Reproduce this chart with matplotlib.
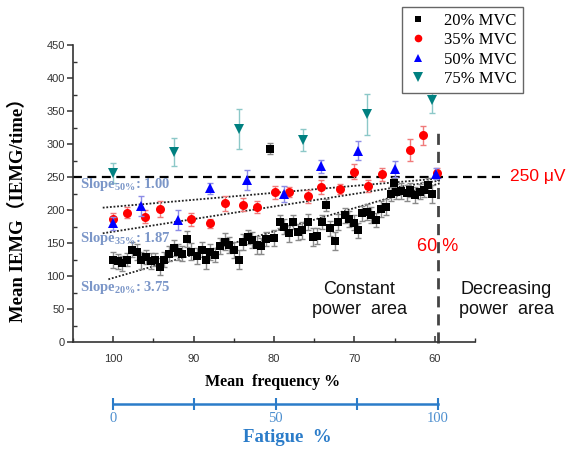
import matplotlib
matplotlib.use("Agg")
import matplotlib.pyplot as plt
from matplotlib.lines import Line2D

plt.rcParams['mathtext.fontset'] = 'custom'
plt.rcParams['mathtext.rm'] = 'Liberation Serif'
plt.rcParams['mathtext.bf'] = 'Liberation Serif:bold'
plt.rcParams['mathtext.it'] = 'Liberation Serif:italic'

# ---------------- data ----------------
freq20 = [100, 99.4, 98.9, 98.3, 97.7, 97.1, 96.5, 95.9, 95.3, 94.8, 94.2, 93.7, 93.1, 92.5,
          92.0, 91.4, 90.8, 90.3, 89.6, 89.0, 88.5, 88.0, 87.4, 86.7, 86.1, 85.6, 85.0, 84.4,
          83.9, 83.2, 82.7, 82.1, 81.6, 81.0, 80.5, 80.0, 79.3, 78.7, 78.1, 77.6, 77.0, 76.5,
          75.8, 75.2, 74.7, 74.0, 73.5, 73.0, 72.4, 72.0, 71.2, 70.7, 70.1, 69.6, 69.0, 68.4,
          67.9, 67.3, 66.7, 66.1, 65.4, 65.1, 64.8, 64.2, 63.5, 63.1, 62.5, 61.9, 61.3, 60.9,
          60.3]
val20 = [124, 122, 119, 125, 140, 137, 124, 129, 123, 125, 114, 125, 134, 143,
         137, 134, 156, 137, 130, 140, 124, 137, 132, 145, 152, 147, 139, 125,
         152, 159, 155, 147, 145, 156, 293, 157, 182, 175, 165, 182, 167, 169,
         182, 159, 160, 182, 208, 172, 153, 182, 192, 187, 181, 169, 195, 197,
         192, 185, 201, 205, 224, 241, 228, 229, 226, 230, 223, 228, 231, 238,
         224]
err20 = [12, 11, 12, 10, 11, 12, 13, 11, 12, 10, 13, 12, 11, 12,
         12, 11, 12, 13, 12, 11, 14, 12, 11, 12, 13, 12, 12, 15,
         12, 11, 12, 13, 12, 11, 8, 12, 10, 12, 13, 11, 12, 13,
         12, 14, 12, 11, 9, 12, 13, 12, 11, 12, 12, 12, 11, 12,
         12, 11, 12, 12, 11, 8, 12, 12, 12, 11, 12, 12, 12, 10,
         14]

freq35 = [100, 98.3, 96.0, 94.2, 90.3, 87.9, 86.1, 83.9, 82.1, 79.9, 78.1, 75.8, 74.1,
          71.8, 70.1, 68.3, 66.6, 63.1, 61.5, 59.7]
val35 = [186, 196, 190, 202, 186, 180, 210, 208, 205, 227, 227, 221, 235,
         232, 258, 236, 254, 291, 313, 256]
err35 = [10, 8, 10, 12, 10, 7, 11, 10, 9, 10, 8, 10, 10,
         8, 11, 9, 10, 17, 14, 8]

freq50 = [100, 96.6, 92.0, 88.0, 83.3, 78.7, 74.1, 69.6, 65.0, 59.8]
val50 = [180, 206, 185, 233, 245, 224, 266, 290, 262, 255]
err50 = [10, 15, 15, 8, 15, 12, 10, 14, 12, 8]

freq75 = [100, 92.5, 84.4, 76.4, 68.4, 60.3]
val75 = [256, 288, 323, 306, 345, 367]
err75 = [15, 21, 30, 17, 31, 20]

# fitted trend lines (start/end frequency and value)
trend_freq = [101.3, 59.2]
trend50 = [203.5, 248]
trend35 = [164.7, 245]
trend20 = [95, 241]
trend20_freq = [100.6, 59.2]

labels = ['20% MVC', '35% MVC', '50% MVC', '75% MVC']
slope_labels = [r'Slope$_{\mathbf{50\%}}$: 1.00', r'Slope$_{\mathbf{35\%}}$: 1.87',
                r'Slope$_{\mathbf{20\%}}$: 3.75']
slope_y = [238, 157, 82]

yticks = [0, 50, 100, 150, 200, 250, 300, 350, 400, 450]
xticks = [100, 90, 80, 70, 60]
fat_ticks = [0, 25, 50, 75, 100]
fat_labels = ['0', '', '50', '', '100']

threshold = 250
limit_freq = 59.6

# ---------------- figure ----------------
W, H = 570, 450
fig = plt.figure(figsize=(W / 100, H / 100), dpi=100)
ax = fig.add_axes([73 / W, 1 - 342 / H, (475 - 73) / W, (342 - 45) / H])
ax.set_xlim(105, 55)
ax.set_ylim(0, 450)

serif = 'Liberation Serif'
sans = 'Liberation Sans'

# dashed reference lines
ax.plot([105, 51.9], [threshold, threshold], ls=(0, (4, 2.5)), color='black', lw=1.6,
        clip_on=False, zorder=2)
ax.plot([limit_freq, limit_freq], [-2, 326], ls=(0, (4, 2.5)), color='#444444', lw=2.0,
        clip_on=False, zorder=2)

# trend lines
ax.plot(trend_freq, trend50, ls=(0, (1, 1)), color='#222222', lw=1.3, zorder=2)
ax.plot(trend_freq, trend35, ls=(0, (1, 1)), color='#222222', lw=1.3, zorder=2)
ax.plot(trend20_freq, trend20, ls=(0, (1, 1)), color='#222222', lw=1.3, zorder=2)

series = [
    (freq20, val20, err20, 's', 'black', '#8a8a8a', 5.5),
    (freq35, val35, err35, 'o', '#ff0000', '#f07a7a', 6.5),
    (freq50, val50, err50, '^', '#0000ff', '#8c8ce6', 7.0),
    (freq75, val75, err75, 'v', '#008080', '#8cc8c8', 7.5),
]
handles = []
for i, (fx, fy, fe, mk, col, ecol, ms) in enumerate(series):
    ax.errorbar(fx, fy, yerr=fe, fmt='none', ecolor=ecol, elinewidth=1.0, capsize=2.5,
                capthick=1.0, zorder=3 + i)
    h, = ax.plot(fx, fy, ls='none', marker=mk, color=col, markersize=ms,
                 markeredgewidth=0, zorder=3.5 + i)
    handles.append(Line2D([], [], ls='none', marker=mk, color=col, markersize=ms - 1,
                          markeredgewidth=0))

# axes styling
for s in ['top', 'right']:
    ax.spines[s].set_visible(False)
for s in ['left', 'bottom']:
    ax.spines[s].set_linewidth(1.2)
    ax.spines[s].set_color('#333333')
ax.set_yticks(yticks)
ax.set_yticks(range(25, 450, 50), minor=True)
ax.set_xticks(xticks)
ax.set_xticks([105, 95, 85, 75, 65, 55], minor=True)
ax.tick_params(axis='y', which='major', direction='out', length=4, width=1.1, colors='#333333',
               labelsize=8, pad=2)
ax.tick_params(axis='y', which='minor', direction='in', length=3, width=1.0, colors='#333333')
ax.tick_params(axis='x', which='major', direction='in', length=4, width=1.1, colors='#333333',
               labelsize=8, pad=9)
ax.tick_params(axis='x', which='minor', direction='in', length=3, width=1.0, colors='#333333')
for lab in ax.get_xticklabels() + ax.get_yticklabels():
    lab.set_fontfamily(sans)

# annotations
slope_col = '#7b96c8'
for lab, yv in zip(slope_labels, slope_y):
    ax.text(104.1, yv, lab, fontfamily=serif, fontweight='bold', fontsize=10.5,
            color=slope_col, ha='left', va='center', zorder=10)

ax.text(50.7, threshold, '250 μV', color='#ff0000', fontfamily=sans, fontsize=12.5,
        ha='left', va='center', clip_on=False)
ax.text(limit_freq, 145, '60 %', color='#ff0000', fontfamily=sans, fontsize=13,
        ha='center', va='center')
ax.text(69.4, 64, 'Constant\npower  area', color='#111111', fontfamily=sans, fontsize=13,
        ha='center', va='center', linespacing=1.25)
ax.text(51.1, 64, 'Decreasing\npower  area', color='#111111', fontfamily=sans, fontsize=13,
        ha='center', va='center', linespacing=1.25, clip_on=False)

# axis labels
fig.text(18 / W, 1 - 205 / H, 'Mean IEMG（IEMG/time）', rotation=90,
         family=[serif, 'Noto Sans CJK SC'], fontweight='bold', fontsize=13.5,
         ha='center', va='center')
fig.text(273 / W, 1 - 382 / H, 'Mean  frequency %', fontfamily=serif, fontweight='bold',
         fontsize=11.5, ha='center', va='center')

# fatigue axis
blue = '#2b7cc9'
ax2 = fig.add_axes([113.3 / W, 1 - 404 / H, (438 - 113.3) / W, 0.02])
ax2.set_xlim(0, 100)
ax2.set_ylim(0, 1)
for s in ['top', 'right', 'left']:
    ax2.spines[s].set_visible(False)
ax2.spines['bottom'].set_color(blue)
ax2.spines['bottom'].set_linewidth(1.8)
ax2.patch.set_alpha(0)
ax2.set_yticks([])
ax2.set_xticks(fat_ticks)
ax2.set_xticklabels(fat_labels)
ax2.tick_params(axis='x', direction='inout', length=9, width=1.5, colors=blue,
                labelsize=10.5, pad=1, labelcolor='#4d8fcf')
for lab in ax2.get_xticklabels():
    lab.set_fontfamily(serif)
fig.text(287 / W, 1 - 438 / H, 'Fatigue  %', fontfamily=serif, fontweight='bold',
         fontsize=13.5, color=blue, ha='center', va='center')

# legend
leg = fig.legend(handles, labels, loc='upper left', bbox_to_anchor=(402 / W, 1 - 7 / H),
                 prop={'family': serif, 'size': 12}, frameon=True, fancybox=False,
                 edgecolor='#666666', framealpha=1, borderpad=0.35, labelspacing=0.2,
                 handlelength=1.2, handletextpad=1.0, borderaxespad=0)
leg.get_frame().set_linewidth(1.0)

fig.savefig('out.png', dpi=100)
